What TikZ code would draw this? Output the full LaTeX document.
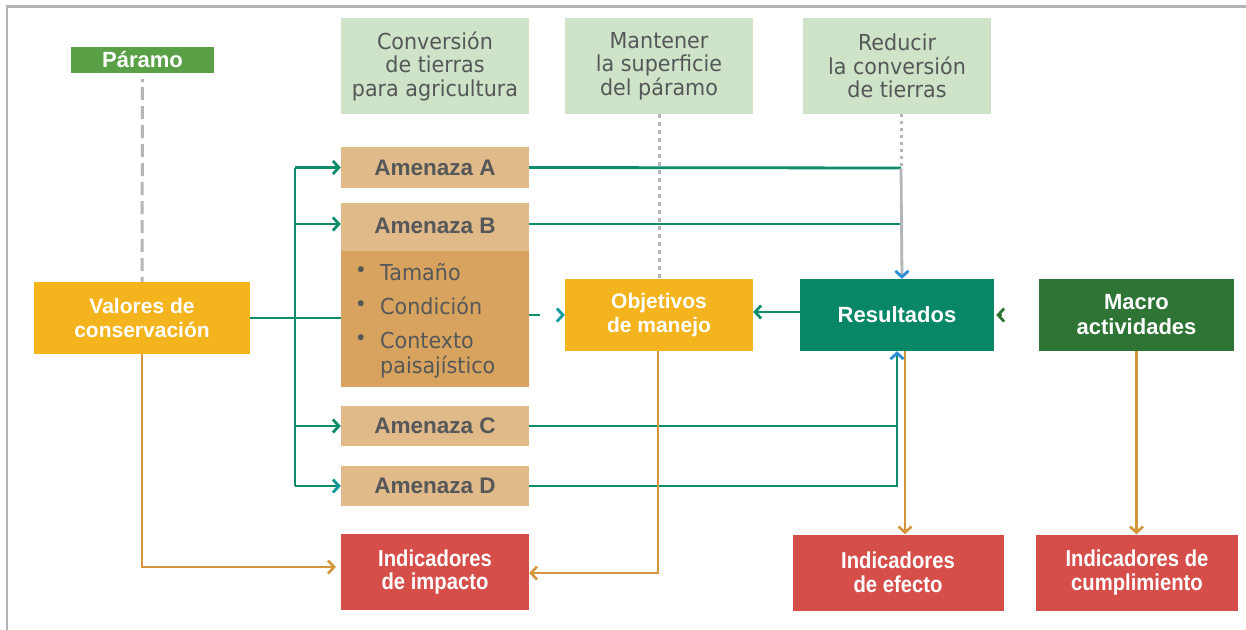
\documentclass[tikz,border=0pt]{standalone}
\usepackage{fontspec}
\usetikzlibrary{arrows.meta}
\newfontfamily\arb{Liberation Sans}
\newfontfamily\narb[FakeStretch=0.88]{Liberation Sans}
\newfontfamily\tah[FakeStretch=0.94]{DejaVu Sans}
\definecolor{frameg}{HTML}{B2B3B6}
\definecolor{paramog}{HTML}{5AA046}
\definecolor{goldc}{HTML}{F4B41E}
\definecolor{lgreen}{HTML}{CFE3C8}
\definecolor{amlight}{HTML}{E0BA88}
\definecolor{amdark}{HTML}{D8A35E}
\definecolor{redc}{HTML}{D64E4A}
\definecolor{resc}{HTML}{078766}
\definecolor{macc}{HTML}{2E7535}
\definecolor{tealc}{HTML}{0E8C6C}
\definecolor{cyanc}{HTML}{12999A}
\definecolor{tipblue}{HTML}{2A8FD8}
\definecolor{orangec}{HTML}{D4953C}
\definecolor{greyl}{HTML}{B5B6B9}
\definecolor{txtg}{HTML}{555759}
\begin{document}
\begin{tikzpicture}[x=1pt,y=-1pt,
  box/.style={rectangle, inner sep=0pt, align=center},
  boldw/.style={box, text=white, font=\arb\bfseries\fontsize{21}{24}\selectfont},
  boldg/.style={box, text=txtg, font=\arb\bfseries\fontsize{22.5}{24}\selectfont},
  indic/.style={box, fill=redc, text=white, font=\narb\bfseries\fontsize{23}{23.5}\selectfont},
  gtxt/.style={box, fill=lgreen, text=txtg, font=\tah\fontsize{22}{23.5}\selectfont},
  btxt/.style={inner sep=0pt, text=txtg, font=\tah\fontsize{22}{24}\selectfont},
  bdot/.style={inner sep=0pt, text=txtg, font=\tah\fontsize{21}{21}\selectfont},
  tl/.style={draw=tealc, line width=2.8pt},
  ol/.style={draw=orangec, line width=2.6pt},
  chev/.style={-{Straight Barb[length=6pt,width=13pt]}},
  frm/.style={draw=frameg, line width=2.5pt}
]
\useasboundingbox (0,0) rectangle (1246,629);
\fill[white] (0,0) rectangle (1246,629);
\draw[frm] (7,640) -- (7,6.5) -- (1260,6.5);

% top boxes
\node[boldw, fill=paramog, minimum width=143pt, minimum height=26pt, font=\arb\bfseries\fontsize{22}{24}\selectfont] (param) at (142.5,60) {Páramo};
\node[gtxt, minimum width=188pt, minimum height=96pt] (conv) at (435,66) {Conversión\\de tierras\\para agricultura};
\node[gtxt, minimum width=188pt, minimum height=96pt] (mant) at (659,66) {Mantener\\la superficie\\del páramo};
\node[gtxt, minimum width=188pt, minimum height=96pt] (redu) at (897,66) {Reducir\\la conversión\\de tierras};

% left
\node[boldw, fill=goldc, minimum width=216pt, minimum height=72pt] (val) at (142,318) {Valores de\\conservación};

% amenazas
\node[boldg, fill=amlight, minimum width=188pt, minimum height=41pt] (amA) at (435,167.5) {Amenaza A};
\node[boldg, fill=amlight, minimum width=188pt, minimum height=48pt, text depth=3pt] (amB) at (435,227) {Amenaza B};
\node[box, fill=amdark, minimum width=188pt, minimum height=136pt] (amBl) at (435,319) {};
\node[bdot] (d1) at (361,272) {•};
\node[bdot] (d2) at (361,306) {•};
\node[bdot] (d3) at (361,340) {•};
\node[btxt, anchor=base west] (t1) at (380,280) {Tamaño};
\node[btxt, anchor=base west] (t2) at (380,314) {Condición};
\node[btxt, anchor=base west] (t3) at (380,348) {Contexto};
\node[btxt, anchor=base west] (t4) at (380,373) {paisajístico};
\node[boldg, fill=amlight, minimum width=188pt, minimum height=40pt] (amC) at (435,426) {Amenaza C};
\node[boldg, fill=amlight, minimum width=188pt, minimum height=40pt] (amD) at (435,486) {Amenaza D};

% middle / right
\node[boldw, fill=goldc, minimum width=188pt, minimum height=72pt] (obj) at (659,315) {Objetivos\\de manejo};
\node[boldw, fill=resc, minimum width=194pt, minimum height=72pt, font=\arb\bfseries\fontsize{22}{24}\selectfont] (res) at (897,315) {Resultados};
\node[boldw, fill=macc, minimum width=195pt, minimum height=72pt, font=\arb\bfseries\fontsize{22}{25}\selectfont] (mac) at (1136.5,315) {Macro\\actividades};

% indicadores
\node[indic, minimum width=188pt, minimum height=76pt] (imp) at (435,572) {Indicadores\\de impacto};
\node[indic, minimum width=211pt, minimum height=76pt] (efe) at (898,572.5) {Indicadores\\de efecto};
\node[indic, minimum width=202pt, minimum height=76pt] (cum) at (1137,572.5) {Indicadores de\\cumplimiento};

% grey dashed links
\draw[greyl, line width=3pt, dash pattern=on 3pt off 5pt on 13pt off 6pt on 13pt off 6pt on 13pt off 6pt on 13pt off 6pt on 13pt off 6pt on 13pt off 6pt on 13pt off 6pt on 13pt off 6pt on 13pt off 6pt on 13pt off 6pt on 13pt off 6pt]
  ([yshift=-6pt]param.south) -- (val.north);
\draw[greyl, line width=3pt, dash pattern=on 4pt off 4pt] (mant.south) -- (obj.north);
\coordinate (g1) at (901,168);
\draw[greyl, line width=3pt, dash pattern=on 3pt off 4pt] (redu.south -| g1) -- (g1);

% teal trunk from Valores
\coordinate (tr) at (295,0);
\draw[tl] (val.east) -- (amBl.west |- val.east);
\draw[tl] (amA.west -| tr) -- (amD.west -| tr);
\draw[tl, chev] (amA.west -| tr) -- (amA.west);
\draw[tl, chev] ([yshift=3pt]amB.west -| tr) -- ([yshift=3pt]amB.west);
\draw[tl, chev] (amC.west -| tr) -- (amC.west);
\draw[tl, -{Straight Barb[length=6pt,width=13pt,color=cyanc]}] (amD.west -| tr) -- (amD.west);

% amenazas to resultados
\draw[tl] (amA.east) -- (g1);
\draw[tl] ([yshift=3pt]amB.east) -- ([yshift=3pt]amB.east -| g1);
\draw[greyl, line width=2.8pt, -{Straight Barb[length=6pt,width=13pt,color=tipblue]}] (g1) -- ([xshift=1pt]res.north -| g1);
\coordinate (cv) at (897,486);
\draw[tl] (amC.east) -- (amC.east -| cv);
\draw[tl, -{Straight Barb[length=6pt,width=13pt,color=tipblue]}] (amD.east) -- (cv) -- (res.south -| cv);

% to objetivos
\draw[tl, dash pattern=on 11pt off 40pt, -{Straight Barb[length=6pt,width=13pt,color=cyanc]}] (amBl.east |- obj.west) -- (obj.west);
\draw[tl, -{Straight Barb[length=6pt,width=13pt]}] ([yshift=3pt]res.west) -- ([yshift=3pt]obj.east);
\draw[draw=macc, line width=2.8pt, -{Straight Barb[length=6pt,width=13pt]}, shorten <=37pt, shorten >=2pt] (mac.west) -- (res.east);

% orange indicator links
\draw[ol, chev] ([xshift=8pt]res.south) -- ([xshift=8pt]res.south |- efe.north);
\draw[ol, chev] (mac.south) -- (mac.south |- cum.north);
\coordinate (oo) at (658,573);
\draw[ol, chev] (obj.south -| oo) -- (oo) -- (imp.east |- oo);
\coordinate (vo) at (142,567);
\draw[ol, chev, shorten >=5pt] (val.south -| vo) -- (vo) -- (imp.west |- vo);
\end{tikzpicture}
\end{document}
